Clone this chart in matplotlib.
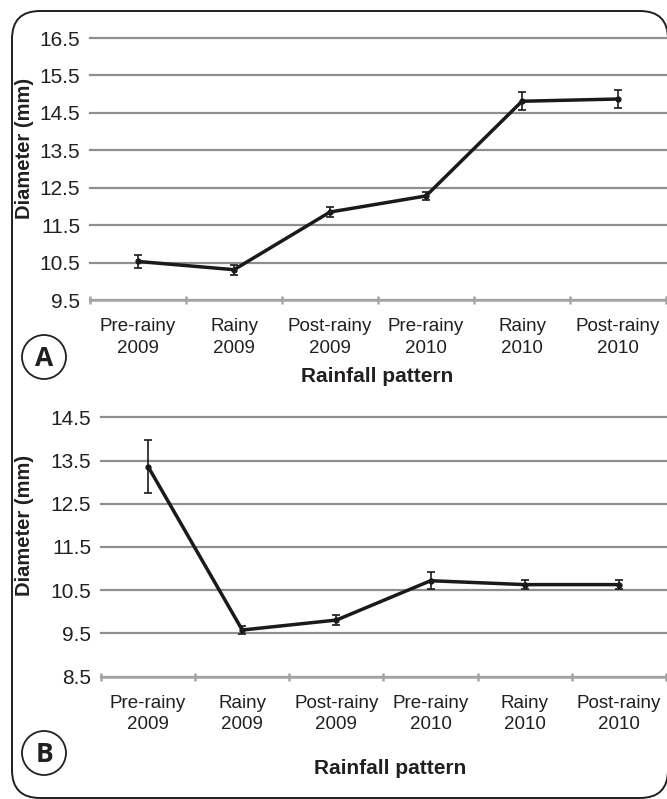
import numpy as np
import matplotlib.pyplot as plt
from matplotlib.patches import FancyBboxPatch, Circle

plt.rcParams['font.family'] = ['Liberation Sans', 'DejaVu Sans']

# data
seasons = ['Pre-rainy\n2009', 'Rainy\n2009', 'Post-rainy\n2009',
           'Pre-rainy\n2010', 'Rainy\n2010', 'Post-rainy\n2010']
diam_A = [10.53, 10.31, 11.85, 12.28, 14.81, 14.87]
err_A = [0.18, 0.13, 0.13, 0.10, 0.24, 0.24]
diam_B = [13.36, 9.58, 9.81, 10.72, 10.63, 10.63]
err_B = [0.61, 0.10, 0.12, 0.20, 0.10, 0.10]
yticks_A = [9.5, 10.5, 11.5, 12.5, 13.5, 14.5, 15.5, 16.5]
yticks_B = [8.5, 9.5, 10.5, 11.5, 12.5, 13.5, 14.5]

W, H = 667, 799
fig = plt.figure(figsize=(W / 100, H / 100), dpi=100)

# background layer in pixel coords for the frame and letters
bg = fig.add_axes([0, 0, 1, 1])
bg.set_xlim(0, W)
bg.set_ylim(H, 0)
bg.axis('off')
bg.add_patch(FancyBboxPatch((12, 11), 656, 787, boxstyle='round,pad=0,rounding_size=28',
                            fc='none', ec='#231f20', lw=1.4))


def panel(rect, vals, errs, yt, ylab_y, xlab_xy):
    ax = fig.add_axes(rect)
    x = np.arange(len(vals))
    ax.errorbar(x, vals, yerr=errs, color='#1a1a1a', lw=2.5, marker='o', ms=3.5,
                elinewidth=1.2, capsize=3, capthick=1.2, zorder=3)
    ax.set_xlim(-0.5, len(vals) - 0.5)
    ax.set_ylim(yt[0], yt[-1])
    ax.set_yticks(yt)
    ax.set_yticklabels(['%.1f' % v for v in yt], fontsize=15, color='#231f20')
    ax.tick_params(axis='y', length=0, pad=7)
    ax.set_xticks(x)
    ax.set_xticklabels(seasons, fontsize=13.5, color='#231f20', linespacing=1.35)
    ax.set_xticks(np.arange(-0.5, len(vals)), minor=True)
    ax.tick_params(axis='x', which='major', length=0, pad=13)
    ax.tick_params(axis='x', which='minor', length=6, direction='inout', color='#a6a6a6', width=1.8)
    ax.grid(axis='y', color='#8f8f8f', lw=1.6)
    for gl in ax.get_ygridlines():
        gl.set_clip_on(False)
    ax.set_axisbelow(True)
    for s in ['top', 'right', 'left']:
        ax.spines[s].set_visible(False)
    ax.spines['bottom'].set_color('#a6a6a6')
    ax.spines['bottom'].set_linewidth(1.8)
    ax.spines['bottom'].set_zorder(2.5)
    fig.text(25 / W, 1 - ylab_y / H, 'Diameter (mm)', rotation=90, fontsize=14.5,
             fontweight='bold', ha='center', va='center', color='#231f20')
    fig.text(xlab_xy[0] / W, 1 - xlab_xy[1] / H, 'Rainfall pattern', fontsize=15,
             fontweight='bold', ha='center', va='center', color='#231f20')
    return ax


axA = panel([90 / W, 1 - 300 / H, 576 / W, 262 / H], diam_A, err_A, yticks_A,
            148, (377, 376))
axB = panel([101 / W, 1 - 676.7 / H, 565 / W, 259.4 / H], diam_B, err_B, yticks_B,
            525, (390, 769))

for ly, lt in [(357, 'A'), (753, 'B')]:
    bg.add_patch(Circle((44, ly), 22, fc='white', ec='#231f20', lw=1.3))
    bg.text(44, ly + 1, lt, fontsize=19, fontweight='bold', ha='center', va='center',
            color='#231f20', family='Open Sans')

fig.savefig('out.png', dpi=100)
